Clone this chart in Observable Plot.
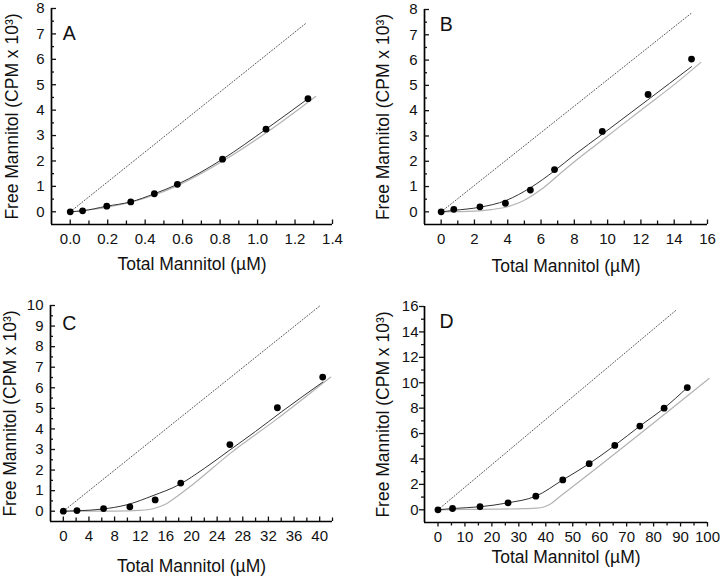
<!DOCTYPE html>
<html><head><meta charset="utf-8">
<script src="https://cdn.jsdelivr.net/npm/d3@7"></script>
<script src="https://cdn.jsdelivr.net/npm/@observablehq/plot@0.6"></script>
<style>
body{margin:0;background:#fff;}
#wrap{position:relative;width:720px;height:576px;font-family:"Liberation Sans",Arial,sans-serif;}
#wrap svg{position:absolute;}
</style></head><body><div id="wrap"></div>
<script>
// ---------- Data (x: total mannitol µM, y: free mannitol CPM x 10^3) ----------
// Panel A
const A_pointX = [0, 0.066, 0.195, 0.323, 0.449, 0.572, 0.813, 1.045, 1.269];
const A_pointY = [0, 0.04, 0.22, 0.39, 0.71, 1.08, 2.07, 3.25, 4.45];
const A_fitX = [0, 0.066, 0.195, 0.323, 0.449, 0.572, 0.813, 1.045, 1.269];
const A_fitY = [0, 0.04, 0.22, 0.39, 0.71, 1.08, 2.07, 3.25, 4.45];
const A_modelX = [0, 0.2, 0.45, 0.57, 0.81, 1.05, 1.31];
const A_modelY = [0, 0.18, 0.66, 1.02, 1.98, 3.13, 4.54];
const A_identX = [0, 1.26];
const A_identY = [0, 7.43];
const A_xTicks = [0, 0.2, 0.4, 0.6, 0.8, 1.0, 1.2, 1.4];
const A_xMinor = [0.1, 0.3, 0.5, 0.7, 0.9, 1.1, 1.3];
const A_yTicks = [0, 1, 2, 3, 4, 5, 6, 7, 8];
const A_yMinor = [0.5, 1.5, 2.5, 3.5, 4.5, 5.5, 6.5, 7.5];

// Panel B
const B_pointX = [0, 0.76, 2.33, 3.86, 5.36, 6.81, 9.68, 12.43, 15.04];
const B_pointY = [0, 0.10, 0.20, 0.34, 0.86, 1.67, 3.18, 4.64, 6.04];
const B_fitX = [0, 0.8, 2.3, 3.9, 5.4, 6.8, 8, 9.7, 12.4, 15.04];
const B_fitY = [0, 0.06, 0.18, 0.45, 0.97, 1.62, 2.25, 3.08, 4.42, 5.74];
const B_modelX = [0, 2, 3, 4, 5, 6, 7, 8, 10, 12, 14, 15.6];
const B_modelY = [0, 0.03, 0.09, 0.2, 0.46, 0.88, 1.43, 1.98, 3.0, 4.02, 5.03, 5.91];
const B_identX = [0, 15.06];
const B_identY = [0, 7.87];
const B_xTicks = [0, 2, 4, 6, 8, 10, 12, 14, 16];
const B_xMinor = [1, 3, 5, 7, 9, 11, 13, 15];
const B_yTicks = [0, 1, 2, 3, 4, 5, 6, 7, 8];
const B_yMinor = [0.5, 1.5, 2.5, 3.5, 4.5, 5.5, 6.5, 7.5];

// Panel C
const C_pointX = [0, 2.13, 6.28, 10.38, 14.33, 18.32, 25.99, 33.4, 40.47];
const C_pointY = [0, 0.03, 0.13, 0.21, 0.55, 1.37, 3.24, 5.03, 6.52];
const C_fitX = [0, 2, 6, 10, 14, 18, 22, 26, 30, 34, 40.5];
const C_fitY = [0, 0.02, 0.1, 0.32, 0.76, 1.28, 2.08, 2.98, 3.88, 4.82, 6.28];
const C_modelX = [0, 8, 12, 14, 16, 18, 20, 26, 33.4, 41.7];
const C_modelY = [0, 0, 0.04, 0.12, 0.35, 0.78, 1.25, 2.8, 4.5, 6.52];
const C_identX = [0, 40.1];
const C_identY = [0, 10];
const C_xTicks = [0, 4, 8, 12, 16, 20, 24, 28, 32, 36, 40];
const C_xMinor = [2, 6, 10, 14, 18, 22, 26, 30, 34, 38, 42];
const C_yTicks = [0, 1, 2, 3, 4, 5, 6, 7, 8, 9, 10];
const C_yMinor = [0.5, 1.5, 2.5, 3.5, 4.5, 5.5, 6.5, 7.5, 8.5, 9.5];

// Panel D
const D_pointX = [0, 5.4, 15.6, 26.0, 36.3, 46.3, 56.1, 65.6, 74.9, 83.9, 92.5];
const D_pointY = [0, 0.1, 0.24, 0.55, 1.07, 2.35, 3.63, 5.07, 6.59, 8.0, 9.62];
const D_fitX = [0, 5.4, 15.6, 26.0, 36.3, 46.3, 56.1, 65.6, 74.9, 83.9, 92.5];
const D_fitY = [0, 0.1, 0.24, 0.55, 1.07, 2.35, 3.63, 5.07, 6.59, 8.0, 9.62];
const D_modelX = [0, 10, 20, 30, 36.3, 39, 41.2, 45.6, 100.6];
const D_modelY = [0, 0.03, 0.05, 0.08, 0.13, 0.2, 0.39, 1.1, 10.33];
const D_identX = [0, 88.5];
const D_identY = [0, 15.74];
const D_xTicks = [0, 10, 20, 30, 40, 50, 60, 70, 80, 90, 100];
const D_xMinor = [5, 15, 25, 35, 45, 55, 65, 75, 85, 95];
const D_yTicks = [0, 2, 4, 6, 8, 10, 12, 14, 16];
const D_yMinor = [1, 3, 5, 7, 9, 11, 13, 15];

const xTitle = "Total Mannitol (\u00B5M)";
const yTitle = "Free Mannitol (CPM x 10\u00B3)";
const letters = ["A", "B", "C", "D"];

// ---------- Drawing ----------
const zip = (xs, ys) => xs.map((x, i) => ({x, y: ys[i]}));
const FONT = "'Liberation Sans', Arial, sans-serif";

function panel(c) {
  const s = c.inward ? -1 : 1;
  const fmt = c.fmt || (d => String(d));
  const chart = Plot.plot({
    width: 360, height: 288,
    marginLeft: c.ml, marginRight: c.mr, marginTop: c.mt, marginBottom: c.mb,
    style: {fontFamily: FONT, background: "transparent", overflow: "visible", color: "#111"},
    x: {domain: c.xd}, y: {domain: c.yd},
    marks: [
      Plot.line(zip(c.ix, c.iy), {x: "x", y: "y", stroke: "#555", strokeWidth: 1, strokeDasharray: "1,2"}),
      Plot.line(zip(c.mx, c.my), {x: "x", y: "y", stroke: "#b3b3b3", strokeWidth: 1.2, curve: "monotone-x"}),
      Plot.line(zip(c.fx, c.fy), {x: "x", y: "y", stroke: "#333", strokeWidth: 1, curve: "monotone-x"}),
      Plot.dot(zip(c.px, c.py), {x: "x", y: "y", r: 3.4, fill: "#000", stroke: "none"}),
      Plot.ruleX([c.xd[0]], {stroke: "#000", strokeWidth: 1.7}),
      Plot.ruleY([c.yd[0]], {stroke: "#000", strokeWidth: 1.7}),
      Plot.axisX({ticks: c.xt, tickSize: 0, tickPadding: 9, fontSize: 15, tickFormat: fmt, label: null}),
      Plot.axisX({ticks: c.xt, tickSize: s * 4.5, tickFormat: () => "", label: null, strokeWidth: 1.3}),
      Plot.axisX({ticks: c.xm, tickSize: s * 3.5, tickFormat: () => "", label: null, strokeWidth: 1.3}),
      Plot.axisY({ticks: c.yt, tickSize: 0, tickPadding: c.inward ? 7 : 6, fontSize: 15, label: null}),
      Plot.axisY({ticks: c.yt, tickSize: s * 5, tickFormat: () => "", label: null, strokeWidth: 1.3}),
      Plot.axisY({ticks: c.ym, tickSize: s * 3, tickFormat: () => "", label: null, strokeWidth: 1.3}),
      Plot.text([xTitle], {frameAnchor: "bottom", dy: c.xdy, fontSize: 17.5, fill: "#111",
        textAnchor: "middle", lineAnchor: "middle"}),
      Plot.text([yTitle], {frameAnchor: "left", dx: c.ydx, rotate: -90, fontSize: 17.5, fill: "#111",
        textAnchor: "middle", lineAnchor: "middle"}),
      Plot.text([c.letter], {frameAnchor: "top-left", dx: c.ldx, dy: c.ldy, fontSize: 19.5, fill: "#111",
        textAnchor: "start", lineAnchor: "middle"})
    ]
  });
  chart.style.left = c.left + "px";
  chart.style.top = c.top + "px";
  return chart;
}

const wrap = document.getElementById("wrap");
wrap.append(
  panel({left: 0, top: 0, ml: 51, mr: 28, mt: 8, mb: 64, xd: [-0.1, 1.4], yd: [-0.5, 8], inward: true,
    px: A_pointX, py: A_pointY, fx: A_fitX, fy: A_fitY, mx: A_modelX, my: A_modelY, ix: A_identX, iy: A_identY,
    xt: A_xTicks, xm: A_xMinor, yt: A_yTicks, ym: A_yMinor, fmt: d3.format(".1f"),
    xdy: 40, ydx: -39, letter: letters[0], ldx: 11.3, ldy: 25.3}),
  panel({left: 360, top: 0, ml: 64, mr: 13, mt: 9, mb: 64, xd: [-1, 16], yd: [-0.5, 8], inward: true,
    px: B_pointX, py: B_pointY, fx: B_fitX, fy: B_fitY, mx: B_modelX, my: B_modelY, ix: B_identX, iy: B_identY,
    xt: B_xTicks, xm: B_xMinor, yt: B_yTicks, ym: B_yMinor,
    xdy: 42, ydx: -41, letter: letters[1], ldx: 15.3, ldy: 15.3}),
  panel({left: 0, top: 288, ml: 50, mr: 28, mt: 17, mb: 55, xd: [-2, 42], yd: [-0.5, 10], inward: true,
    px: C_pointX, py: C_pointY, fx: C_fitX, fy: C_fitY, mx: C_modelX, my: C_modelY, ix: C_identX, iy: C_identY,
    xt: C_xTicks, xm: C_xMinor, yt: C_yTicks, ym: C_yMinor,
    xdy: 44.5, ydx: -40, letter: letters[2], ldx: 11.7, ldy: 18.7}),
  panel({left: 360, top: 288, ml: 64, mr: 13, mt: 18, mb: 54, xd: [-5, 100], yd: [-1, 16], inward: false,
    px: D_pointX, py: D_pointY, fx: D_fitX, fy: D_fitY, mx: D_modelX, my: D_modelY, ix: D_identX, iy: D_identY,
    xt: D_xTicks, xm: D_xMinor, yt: D_yTicks, ym: D_yMinor,
    xdy: 35, ydx: -41, letter: letters[3], ldx: 15, ldy: 15.5})
);
</script>
</body></html>
